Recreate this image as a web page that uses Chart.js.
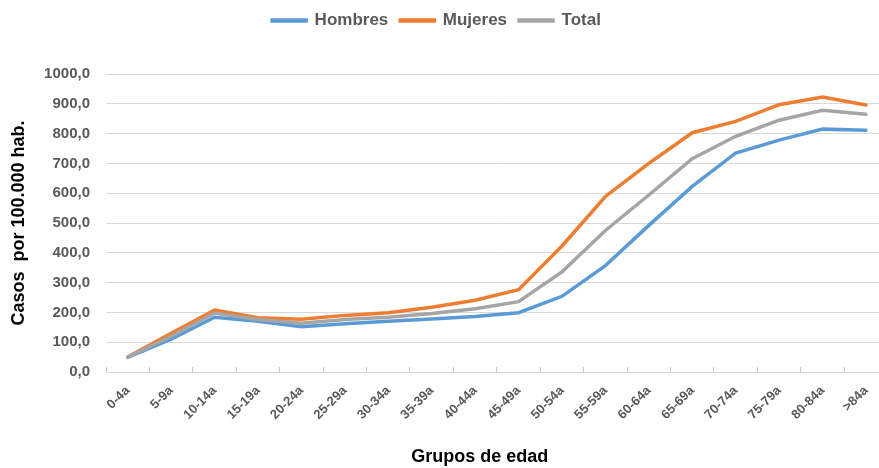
<!DOCTYPE html>
<html>
<head>
<meta charset="utf-8">
<script src="https://cdn.jsdelivr.net/npm/chart.js@4"></script>
<style>
  html, body { margin: 0; padding: 0; background: #fff; overflow: hidden; }
  #wrap { width: 893px; height: 468px; }
</style>
</head>
<body>
<div id="wrap"><canvas id="myChart"></canvas></div>
<script>
const labels = ['0-4a', '5-9a', '10-14a', '15-19a', '20-24a', '25-29a', '30-34a', '35-39a', '40-44a',
  '45-49a', '50-54a', '55-59a', '60-64a', '65-69a', '70-74a', '75-79a', '80-84a', '>84a'];

const hombres = [49, 110, 184, 170, 152, 162, 170, 178, 186, 199, 254, 357, 492, 623, 735, 778, 815, 811];
const mujeres = [50, 130, 208, 182, 177, 190, 199, 217, 241, 276, 423, 589, 700, 803, 841, 897, 923, 896];
const total = [50, 120, 198, 176, 164, 176, 184, 196, 212, 236, 336, 475, 594, 716, 791, 845, 878, 865];

const gris = '#595959';
const font = "'Liberation Sans', Arial, sans-serif";

// fixed legend height and small shifts so the layout sits like the reference
const tweaks = {
  id: 'tweaks',
  beforeLayout(chart) {
    const lg = chart.legend;
    if (lg && !lg._patched) {
      const fit = lg.fit;
      lg.fit = function () { fit.call(this); this.height = 74; };
      const draw = lg.draw;
      lg.draw = function () {
        this.ctx.save();
        this.ctx.translate(-10, 0);
        draw.call(this);
        this.ctx.restore();
      };
      lg._patched = true;
    }
  },
  afterLayout(chart) {
    const x = chart.scales.x;
    if (x && !x._patched) {
      const drawTitle = x.drawTitle;
      x.drawTitle = function () {
        this.ctx.save();
        this.ctx.translate(-17, 0);
        drawTitle.call(this);
        this.ctx.restore();
      };
      x._patched = true;
    }
  }
};

const data = {
  labels: labels,
  datasets: [
    { label: 'Hombres', data: hombres, borderColor: '#5b9bd5', backgroundColor: '#5b9bd5', order: 2 },
    { label: 'Mujeres', data: mujeres, borderColor: '#ed7d31', backgroundColor: '#ed7d31', order: 1 },
    { label: 'Total', data: total, borderColor: '#a5a5a5', backgroundColor: '#a5a5a5', order: 0 }
  ]
};
data.datasets.forEach(d => {
  d.borderWidth = 3.5;
  d.pointRadius = 0;
  d.tension = 0;
  d.borderCapStyle = 'round';
});

new Chart(document.getElementById('myChart'), {
  type: 'line',
  data: data,
  plugins: [tweaks],
  options: {
    responsive: true,
    maintainAspectRatio: false,
    animation: false,
    layout: { padding: 0 },
    plugins: {
      tooltip: { enabled: false },
      legend: {
        position: 'top',
        labels: {
          boxWidth: 34,
          boxHeight: 1,
          padding: 12,
          color: gris,
          sort: (a, b) => a.datasetIndex - b.datasetIndex,
          font: { family: font, size: 17, weight: 'bold' }
        }
      }
    },
    scales: {
      x: {
        offset: true,
        grid: { offset: true, drawOnChartArea: false, drawTicks: true, tickLength: -5, color: '#c8c8c8' },
        border: { color: '#d9d9d9', width: 1 },
        ticks: {
          color: gris,
          minRotation: 45,
          maxRotation: 45,
          padding: 16,
          labelOffset: 0,
          font: { family: font, size: 13, weight: 'bold' }
        },
        title: {
          display: true,
          text: 'Grupos de edad',
          color: '#000',
          padding: { top: 0, bottom: 0 },
          font: { family: font, size: 18, weight: 'bold' }
        },
        afterFit(scale) { scale.height = 96; }
      },
      y: {
        min: 0,
        max: 1000,
        ticks: {
          stepSize: 100,
          color: gris,
          padding: 16,
          font: { family: font, size: 15, weight: 'bold' },
          callback: v => v.toFixed(1).replace('.', ',')
        },
        grid: { color: '#d9d9d9', drawTicks: false },
        border: { display: false },
        title: {
          display: true,
          text: 'Casos  por 100.000 hab.',
          color: '#000',
          padding: { top: 8, bottom: 0 },
          font: { family: font, size: 18, weight: 'bold' }
        },
        afterFit(scale) { scale.width = 106; }
      }
    }
  }
});
</script>
</body>
</html>
